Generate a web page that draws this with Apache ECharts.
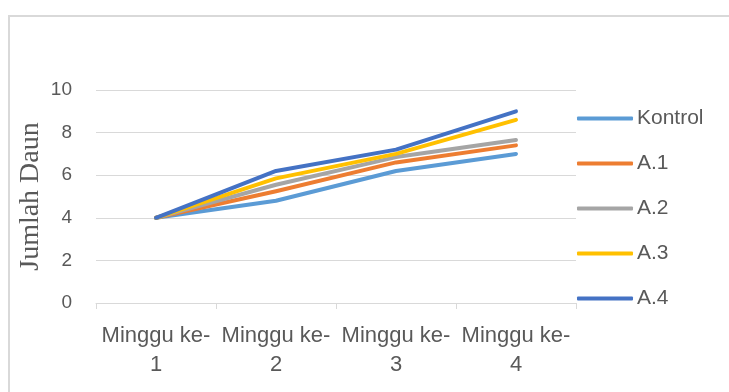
<!DOCTYPE html>
<html>
<head>
<meta charset="utf-8">
<script src="https://cdn.jsdelivr.net/npm/echarts@6/dist/echarts.min.js"></script>
<style>
  html, body { margin: 0; padding: 0; background: #fff; }
  #chart { width: 729px; height: 392px; }
</style>
</head>
<body>
<div id="chart"></div>
<script>
const categories = ['Minggu ke-\n1', 'Minggu ke-\n2', 'Minggu ke-\n3', 'Minggu ke-\n4'];
const yTicks = [0, 2, 4, 6, 8, 10];

const kontrol = [4, 4.8, 6.2, 7.0];
const a1 = [4, 5.25, 6.6, 7.4];
const a2 = [4, 5.55, 6.85, 7.65];
const a3 = [4, 5.85, 7.0, 8.6];
const a4 = [4, 6.2, 7.2, 9.0];

const seriesNames = ['Kontrol', 'A.1', 'A.2', 'A.3', 'A.4'];
const seriesData = [kontrol, a1, a2, a3, a4];
const colors = ['#5B9BD5', '#ED7D31', '#A5A5A5', '#FFC000', '#4472C4'];

const chart = echarts.init(document.getElementById('chart'));

const option = {
    animation: false,
    color: colors,
    textStyle: { fontFamily: 'Liberation Sans', color: '#595959' },
    graphic: [
        {
            type: 'rect',
            shape: { x: 9, y: 16, width: 800, height: 450 },
            style: { fill: 'none', stroke: '#D9D9D9', lineWidth: 2 },
            silent: true
        }
    ],
    grid: { left: 96, right: 153, top: 90, bottom: 89 },
    legend: {
        orient: 'vertical',
        left: 577,
        top: 108,
        padding: 0,
        icon: 'roundRect',
        itemWidth: 56,
        itemHeight: 4,
        itemGap: 24,
        textStyle: { fontSize: 21, color: '#595959', padding: [0, 0, 0, -1] },
        data: seriesNames
    },
    xAxis: {
        type: 'category',
        data: categories,
        boundaryGap: true,
        axisLine: { lineStyle: { color: '#D9D9D9', width: 1 } },
        axisTick: { show: true, length: 6, lineStyle: { color: '#D9D9D9' } },
        axisLabel: { interval: 0, fontSize: 22, lineHeight: 29, margin: 18, color: '#595959' }
    },
    yAxis: {
        type: 'value',
        min: yTicks[0],
        max: yTicks[yTicks.length - 1],
        interval: 2,
        name: 'Jumlah Daun',
        nameLocation: 'middle',
        nameGap: 51,
        nameMoveOverlap: false,
        nameTextStyle: { fontFamily: 'Liberation Serif', fontSize: 28, color: '#595959' },
        axisLine: { show: false },
        axisTick: { show: false },
        splitLine: { lineStyle: { color: '#D9D9D9', width: 1 } },
        axisLabel: { fontSize: 19, margin: 24, color: '#595959' }
    },
    series: seriesNames.map((name, i) => ({
        name: name,
        type: 'line',
        data: seriesData[i],
        symbol: 'none',
        lineStyle: { width: 4, cap: 'round', join: 'round' },
        z: 2 + i
    }))
};

chart.setOption(option);
</script>
</body>
</html>
